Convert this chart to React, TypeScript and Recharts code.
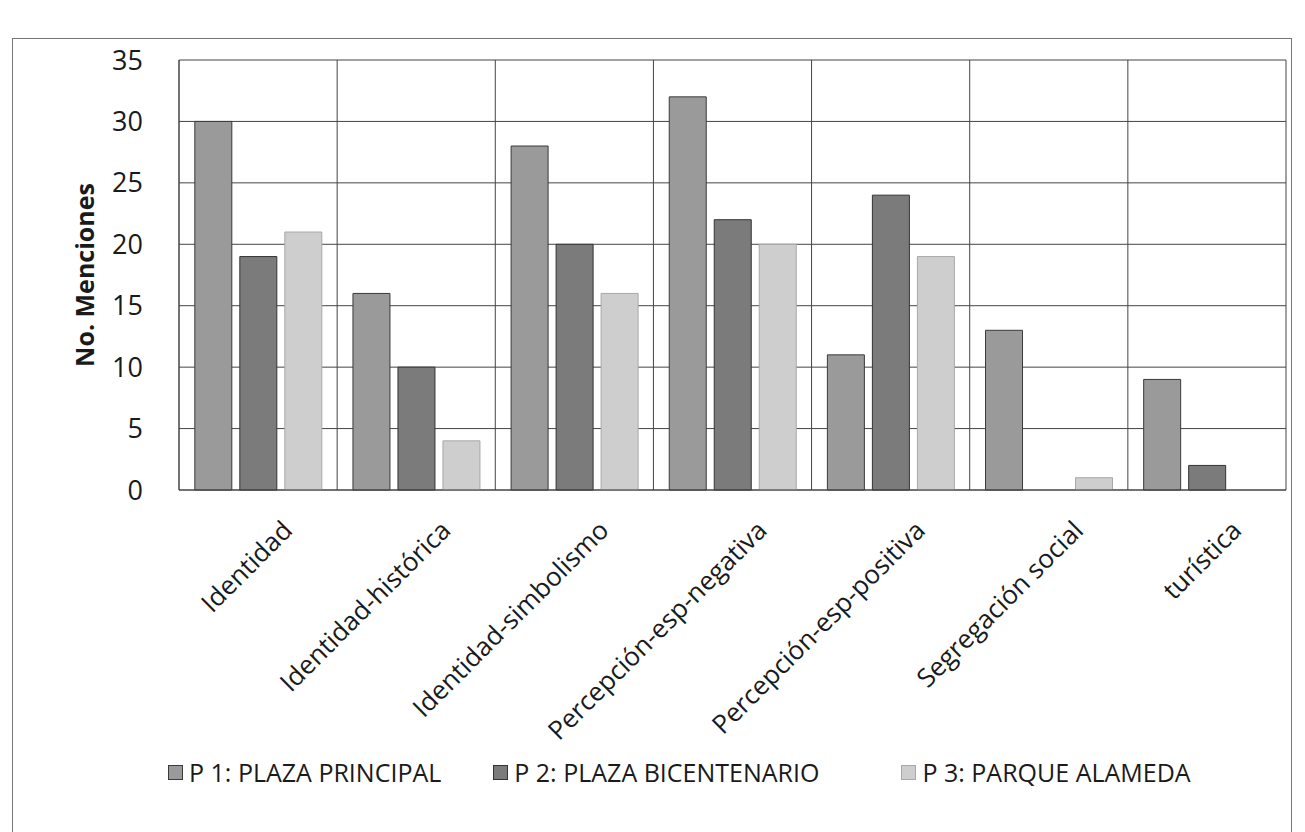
import React from 'react';
import { BarChart, Bar, XAxis, YAxis, CartesianGrid, Legend } from 'recharts';

// categories and counts
const categories = [
  'Identidad',
  'Identidad-histórica',
  'Identidad-simbolismo',
  'Percepción-esp-negativa',
  'Percepción-esp-positiva',
  'Segregación social',
  'turística',
];
const plazaPrincipal = [30, 16, 28, 32, 11, 13, 9];
const plazaBicentenario = [19, 10, 20, 22, 24, 0, 2];
const parqueAlameda = [21, 4, 16, 20, 19, 1, 0];
const yTicks = [0, 5, 10, 15, 20, 25, 30, 35];

const seriesNames = ['P 1: PLAZA PRINCIPAL', 'P 2: PLAZA BICENTENARIO', 'P 3: PARQUE ALAMEDA'];
const colors = ['#9a9a9a', '#7b7b7b', '#cecece'];
const strokes = ['#3a3a3a', '#333333', '#a8a8a8'];

const data = categories.map((c, i) => ({
  name: c,
  p1: plazaPrincipal[i],
  p2: plazaBicentenario[i],
  p3: parqueAlameda[i],
}));

const FONT = '"Open Sans", sans-serif';

const CategoryTick = ({ x, y, payload }: any) => {
  const tx = x + 36;
  const ty = y + 40;
  return (
    <text
      x={tx}
      y={ty}
      transform={`rotate(-45, ${tx}, ${ty})`}
      textAnchor="end"
      fontFamily={FONT}
      fontSize={26}
      fill="#1a1a1a"
    >
      {payload.value}
    </text>
  );
};

const LegendContent = () => (
  <div style={{ display: 'flex', paddingLeft: 155, fontFamily: FONT, fontSize: 25, color: '#1a1a1a' }}>
    {seriesNames.map((n, i) => (
      <div key={n} style={{ display: 'flex', alignItems: 'center', marginRight: i === 0 ? 52 : 82 }}>
        <span
          style={{
            display: 'inline-block',
            width: 13,
            height: 13,
            background: colors[i],
            border: `1px solid ${strokes[i]}`,
            marginRight: 6,
          }}
        />
        <span>{n}</span>
      </div>
    ))}
  </div>
);

const App = () => {
  return (
    <div
      style={{
        position: 'relative',
        width: 1278,
        height: 793,
        marginLeft: 4,
        marginTop: 30,
        border: '1px solid #777',
        background: '#fff',
      }}
    >
      <BarChart
        width={1278}
        height={793}
        data={data}
        margin={{ top: 21, right: 5, bottom: 37, left: 16 }}
        barCategoryGap="10%"
        barGap={8}
      >
        <CartesianGrid
          stroke="#444"
          strokeWidth={1}
          verticalCoordinatesGenerator={({ offset }: any) =>
            categories.map((_, i) => offset.left + ((i + 1) * offset.width) / categories.length).concat([offset.left])
          }
        />
        <XAxis
          dataKey="name"
          interval={0}
          height={265}
          tickLine={false}
          tickSize={0}
          axisLine={{ stroke: '#444' }}
          tick={<CategoryTick />}
        />
        <YAxis
          domain={[0, 35]}
          ticks={yTicks}
          width={150}
          tickLine={false}
          tickSize={6}
          tickMargin={30}
          axisLine={{ stroke: '#444' }}
          tick={{ fontFamily: FONT, fontSize: 27, fill: '#1a1a1a' }}
          label={({ viewBox }: any) => {
            const lx = viewBox.x + 65;
            const ly = viewBox.y + viewBox.height / 2;
            return (
              <text
                x={lx}
                y={ly}
                transform={`rotate(-90, ${lx}, ${ly})`}
                textAnchor="middle"
                fontFamily={FONT}
                fontWeight="bold"
                fontSize={25}
                fill="#1a1a1a"
              >
                No. Menciones
              </text>
            );
          }}
        />
        <Legend verticalAlign="bottom" height={40} wrapperStyle={{ left: 0, width: 1278 }} content={<LegendContent />} />
        <Bar dataKey="p1" name={seriesNames[0]} fill={colors[0]} stroke={strokes[0]} isAnimationActive={false} />
        <Bar dataKey="p2" name={seriesNames[1]} fill={colors[1]} stroke={strokes[1]} isAnimationActive={false} />
        <Bar dataKey="p3" name={seriesNames[2]} fill={colors[2]} stroke={strokes[2]} isAnimationActive={false} />
      </BarChart>
    </div>
  );
};

export default App;
